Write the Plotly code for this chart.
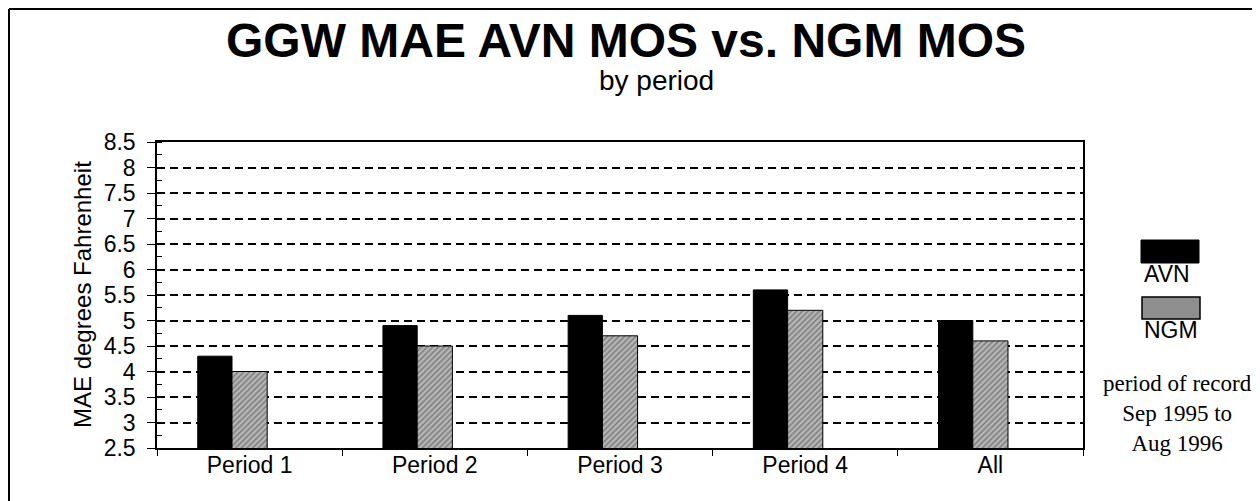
import plotly.graph_objects as go

periods = ["Period 1", "Period 2", "Period 3", "Period 4", "All"]
avn_mae = [4.3, 4.9, 5.1, 5.6, 5.0]
ngm_mae = [4.0, 4.5, 4.7, 5.2, 4.6]

FONT = "Liberation Sans, Arial, sans-serif"
SERIF = "Liberation Serif, Times New Roman, serif"

# page body has an 8px margin, so the figure starts at (8, 8) in the window
OFF = 8
W, H = 1260 - OFF, 501 - OFF
# plot area in window pixels: left 157, right 1083, top 142, bottom 448
L, R, T, B = 157, 1083, 142, 448


def px(x):
    return (x - L) / (R - L)


def py(y):
    return (B - y) / (B - T)


fig = go.Figure()
fig.add_trace(go.Bar(
    x=periods, y=avn_mae, name="AVN",
    offset=-0.28, width=0.185,
    marker={"color": "#000000", "line": {"color": "#000000", "width": 1}},
))
fig.add_trace(go.Bar(
    x=periods, y=ngm_mae, name="NGM",
    offset=-0.095, width=0.19,
    marker={
        "color": "#9a9a9a",
        "line": {"color": "#000000", "width": 1},
        "pattern": {"shape": "/", "fgcolor": "#4a4a4a", "bgcolor": "#b8b8b8", "size": 4, "solidity": 0.45},
    },
))

shapes = [
    # outer frame: left and top edges only
    dict(type="line", xref="paper", yref="paper", x0=px(9), x1=px(9), y0=py(9), y1=py(520),
         line={"color": "#000000", "width": 2}),
    dict(type="line", xref="paper", yref="paper", x0=px(9), x1=px(1270), y0=py(9), y1=py(9),
         line={"color": "#000000", "width": 2}),
    # legend keys
    dict(type="rect", xref="paper", yref="paper", x0=px(1141), x1=px(1199), y0=py(263), y1=py(240),
         line={"color": "#000000", "width": 1}, fillcolor="#000000"),
    dict(type="rect", xref="paper", yref="paper", x0=px(1142), x1=px(1200), y0=py(319), y1=py(297),
         line={"color": "#000000", "width": 1.5}, fillcolor="#8f8f8f"),
]

annotations = [
    dict(text="<b>GGW MAE AVN MOS vs. NGM MOS</b>", x=px(626), y=py(40), xref="paper", yref="paper",
         showarrow=False, xanchor="center", yanchor="middle",
         font={"family": FONT, "size": 48, "color": "#000000"}),
    dict(text="by period", x=px(656), y=py(80), xref="paper", yref="paper",
         showarrow=False, xanchor="center", yanchor="middle",
         font={"family": FONT, "size": 28, "color": "#000000"}),
    dict(text="MAE degrees Fahrenheit", x=px(82), y=py(295), xref="paper", yref="paper",
         showarrow=False, textangle=-90, xanchor="center", yanchor="middle",
         font={"family": FONT, "size": 24, "color": "#000000"}),
    dict(text="AVN", x=px(1167), y=py(274), xref="paper", yref="paper",
         showarrow=False, xanchor="center", yanchor="middle",
         font={"family": FONT, "size": 23, "color": "#000000"}),
    dict(text="NGM", x=px(1171), y=py(330), xref="paper", yref="paper",
         showarrow=False, xanchor="center", yanchor="middle",
         font={"family": FONT, "size": 23, "color": "#000000"}),
    dict(text="period of record<br>Sep 1995 to<br>Aug 1996", x=px(1177), y=py(413), xref="paper", yref="paper",
         showarrow=False, xanchor="center", yanchor="middle", align="center",
         font={"family": SERIF, "size": 23, "color": "#000000"}),
]

fig.update_layout(
    width=W,
    height=H,
    margin={"l": L - OFF, "r": 1260 - R, "t": T - OFF, "b": 501 - B, "pad": 0},
    paper_bgcolor="#ffffff",
    plot_bgcolor="#ffffff",
    font={"family": FONT, "size": 23, "color": "#000000"},
    barmode="overlay",
    showlegend=False,
    shapes=shapes,
    annotations=annotations,
)
fig.update_xaxes(
    showline=True, linecolor="#000000", linewidth=2, mirror=True,
    showgrid=False, tickson="boundaries", ticks="outside", ticklen=6, tickcolor="#000000",
    tickfont={"size": 23}, ticklabelstandoff=-5,
)
fig.update_yaxes(
    range=[2.5, 8.5], dtick=0.5, tick0=2.5,
    showline=True, linecolor="#000000", linewidth=1.5, mirror=True,
    showgrid=True, gridcolor="#000000", gridwidth=1.5, griddash="8px,5px",
    zeroline=False, ticks="outside", ticklen=8, tickcolor="#000000",
    minor={"dtick": 0.25, "ticks": "inside", "ticklen": 5, "tickcolor": "#000000", "showgrid": False},
    tickfont={"size": 23}, ticklabelstandoff=7,
)

fig.write_html("out.html")
